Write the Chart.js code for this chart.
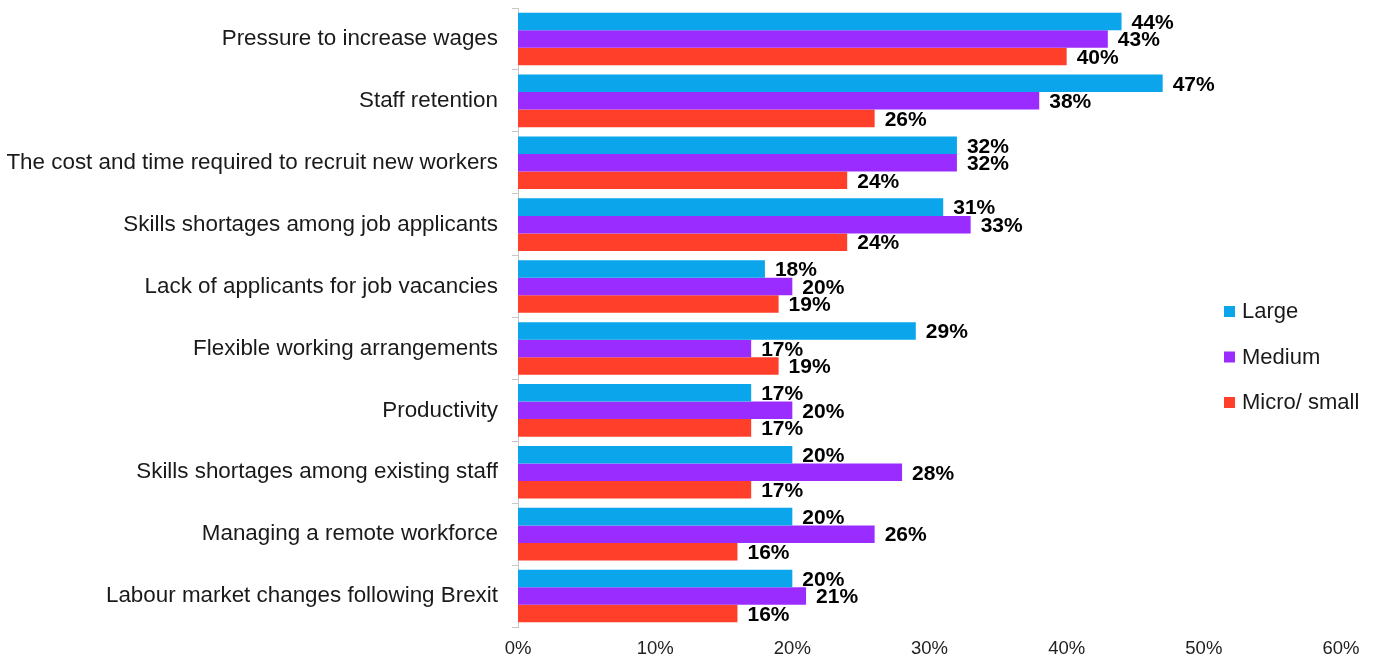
<!DOCTYPE html>
<html>
<head>
<meta charset="utf-8">
<script src="https://cdn.jsdelivr.net/npm/chart.js@4/dist/chart.umd.min.js"></script>
<style>
    html, body { margin: 0; padding: 0; background: #ffffff; }
    #wrap { width: 1377px; height: 660px; }
</style>
</head>
<body>
<div id="wrap"><canvas id="chart"></canvas></div>
<script>
const categories = [
    "Pressure to increase wages",
    "Staff retention",
    "The cost and time required to recruit new workers",
    "Skills shortages among job applicants",
    "Lack of applicants for job vacancies",
    "Flexible working arrangements",
    "Productivity",
    "Skills shortages among existing staff",
    "Managing a remote workforce",
    "Labour market changes following Brexit"
];
const largeValues = [44, 47, 32, 31, 18, 29, 17, 20, 20, 20];
const mediumValues = [43, 38, 32, 33, 20, 17, 20, 28, 26, 21];
const smallValues = [40, 26, 24, 24, 19, 19, 17, 17, 16, 16];
const xTicks = [0, 10, 20, 30, 40, 50, 60];

const FONT = "'Liberation Sans', Arial, sans-serif";

// value labels at the end of each bar
const barLabels = {
    id: "barLabels",
    afterDatasetsDraw(chart) {
        const ctx = chart.ctx;
        ctx.save();
        ctx.font = "bold 21px " + FONT;
        ctx.fillStyle = "#000000";
        ctx.textAlign = "left";
        ctx.textBaseline = "middle";
        chart.data.datasets.forEach((ds, di) => {
            chart.getDatasetMeta(di).data.forEach((bar, i) => {
                ctx.fillText(ds.data[i] + "%", bar.x + 10, bar.y + 1.5);
            });
        });
        ctx.restore();
    }
};

// vertical legend drawn over the empty right side of the plot
const sideLegend = {
    id: "sideLegend",
    afterDraw(chart) {
        const ctx = chart.ctx;
        ctx.save();
        ctx.font = "22px " + FONT;
        ctx.textAlign = "left";
        ctx.textBaseline = "middle";
        chart.data.datasets.forEach((ds, i) => {
            const y = 311 + i * 45.5;
            ctx.fillStyle = ds.backgroundColor;
            ctx.fillRect(1224, y - 5, 11, 11);
            ctx.fillStyle = "#1a1a1a";
            ctx.fillText(ds.label, 1242, y + 1);
        });
        ctx.restore();
    }
};

new Chart(document.getElementById("chart"), {
    type: "bar",
    data: {
        labels: categories,
        datasets: [
            { label: "Large", data: largeValues, backgroundColor: "#0aa5eb" },
            { label: "Medium", data: mediumValues, backgroundColor: "#9b2cff" },
            { label: "Micro/ small", data: smallValues, backgroundColor: "#ff3f29" }
        ]
    },
    options: {
        indexAxis: "y",
        responsive: true,
        maintainAspectRatio: false,
        animation: false,
        categoryPercentage: 0.85,
        barPercentage: 1,
        layout: { padding: { top: 8, right: 36, left: 0, bottom: 0 } },
        plugins: {
            legend: { display: false },
            tooltip: { enabled: false }
        },
        scales: {
            x: {
                min: 0,
                max: 60,
                afterBuildTicks(scale) {
                    scale.ticks = xTicks.map((v) => ({ value: v }));
                },
                afterFit(scale) { scale.height = 33; },
                grid: { display: false, drawTicks: false },
                border: { display: false },
                ticks: {
                    color: "#222222",
                    font: { family: FONT, size: 18.5 },
                    padding: 11,
                    maxRotation: 0,
                    callback: (v) => v + "%"
                }
            },
            y: {
                offset: true,
                afterFit(scale) {
                    scale.width = 518;
                    scale.paddingTop = 0;
                    scale.paddingBottom = 0;
                },
                grid: {
                    offset: true,
                    drawOnChartArea: false,
                    drawTicks: true,
                    tickLength: 6,
                    color: "#c8c8c8"
                },
                border: { display: true, color: "#c8c8c8", width: 1 },
                ticks: {
                    color: "#1a1a1a",
                    font: { family: FONT, size: 22.4 },
                    padding: 14
                }
            }
        }
    },
    plugins: [barLabels, sideLegend]
});
</script>
</body>
</html>
